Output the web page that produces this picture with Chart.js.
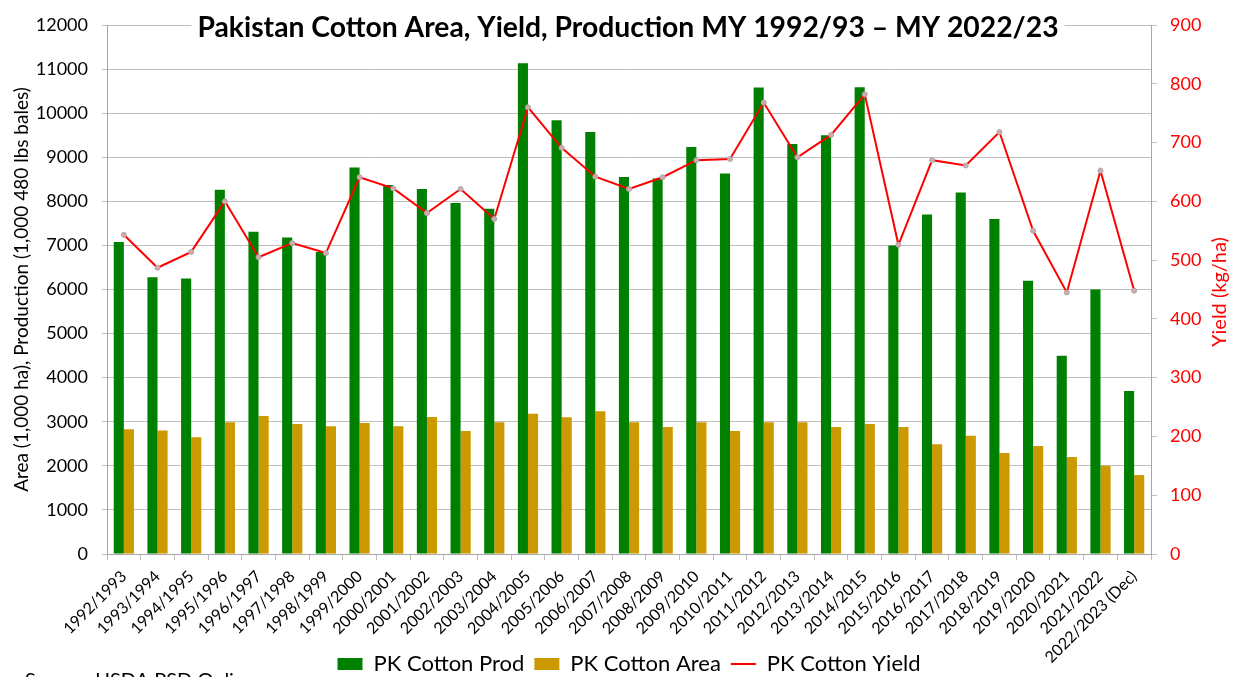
<!DOCTYPE html>
<html>
<head>
<meta charset="utf-8">
<title>Pakistan Cotton Area, Yield, Production</title>
<script src="https://cdn.jsdelivr.net/npm/chart.js@4.4.1/dist/chart.umd.min.js"></script>
<style>
  html, body { margin: 0; padding: 0; background: #fff; }
  #wrap { width: 1233px; height: 677px; }
</style>
</head>
<body>
<div id="wrap"><canvas id="cottonChart" width="1233" height="677"></canvas></div>
<script>
// --- Data ---
const years = [
  '1992/1993', '1993/1994', '1994/1995', '1995/1996', '1996/1997', '1997/1998',
  '1998/1999', '1999/2000', '2000/2001', '2001/2002', '2002/2003', '2003/2004',
  '2004/2005', '2005/2006', '2006/2007', '2007/2008', '2008/2009', '2009/2010',
  '2010/2011', '2011/2012', '2012/2013', '2013/2014', '2014/2015', '2015/2016',
  '2016/2017', '2017/2018', '2018/2019', '2019/2020', '2020/2021', '2021/2022',
  '2022/2023 (Dec)'
];
// production, 1,000 480 lb bales
const prod = [
  7075, 6280, 6250, 8260, 7310, 7180, 6850, 8770, 8370, 8280, 7960, 7830,
  11130, 9840, 9570, 8550, 8520, 9230, 8630, 10580, 9300, 9500, 10590, 7000,
  7700, 8200, 7600, 6200, 4500, 6000, 3700
];
// area, 1,000 ha
const area = [
  2830, 2800, 2650, 2990, 3130, 2950, 2900, 2970, 2900, 3110, 2790, 2990,
  3180, 3100, 3240, 2990, 2880, 2990, 2790, 2990, 2990, 2880, 2950, 2880,
  2490, 2680, 2290, 2450, 2200, 2000, 1790
];
// yield, kg/ha
const yieldKgHa = [
  543, 487, 514, 600, 505, 529, 512, 641, 622, 580, 621, 570,
  760, 691, 642, 621, 641, 670, 672, 768, 675, 713, 782, 526,
  670, 661, 718, 550, 445, 652, 448
];
const leftTicks = { min: 0, max: 12000, step: 1000 };
const rightTicks = { min: 0, max: 900, step: 100 };

const titleText = 'Pakistan Cotton Area, Yield, Production MY 1992/93 \u2013 MY 2022/23';
const rightTitle = 'Yield (kg/ha)';
const sourceText = 'Source: USDA PSD Online';

Chart.defaults.font.family = 'Lato, "Open Sans", sans-serif';
Chart.defaults.color = '#000';

// title sits over the top gridline, right axis title reads bottom-to-top
const overlayText = {
  id: 'overlayText',
  afterLayout(chart) {
    // legend overlaps the tall x-axis box, like Excel does
    const lg = chart.legend;
    if (lg) { lg.top -= 27; lg.bottom -= 27; }
  },
  beforeDatasetsDraw(chart) {
    const ctx = chart.ctx;
    ctx.save();
    // fit the title to the width it has in the reference (about 860px)
    ctx.font = 'bold 25px Lato';
    const size = 25 * 860 / ctx.measureText(titleText).width;
    ctx.font = 'bold ' + size.toFixed(1) + 'px Lato';
    const w = ctx.measureText(titleText).width;
    const cx = 628;
    ctx.fillStyle = '#fff';
    ctx.fillRect(cx - w / 2 - 6, 12, w + 12, 30);
    ctx.fillStyle = '#000';
    ctx.textAlign = 'center';
    ctx.textBaseline = 'alphabetic';
    ctx.fillText(titleText, cx, 37);
    ctx.restore();
  },
  afterDraw(chart) {
    const ctx = chart.ctx;
    ctx.save();
    ctx.translate(1220, 292);
    ctx.rotate(-Math.PI / 2);
    ctx.font = '20px Lato';
    ctx.fillStyle = '#FF0000';
    ctx.textAlign = 'center';
    ctx.textBaseline = 'middle';
    ctx.fillText(rightTitle, 0, 0);
    ctx.restore();

    ctx.save();
    ctx.font = '20px Lato';
    ctx.fillStyle = '#000';
    ctx.textBaseline = 'top';
    ctx.fillText(sourceText, 25, 671);
    ctx.restore();
  }
};

const legendOrder = { 'PK Cotton Prod': 0, 'PK Cotton Area': 1, 'PK Cotton Yield': 2 };

const ctx = document.getElementById('cottonChart');
new Chart(ctx, {
  type: 'bar',
  data: {
    labels: years,
    datasets: [
      {
        type: 'line',
        label: 'PK Cotton Yield',
        data: yieldKgHa,
        yAxisID: 'y1',
        borderColor: '#FF0000',
        backgroundColor: '#FF0000',
        borderWidth: 2,
        pointRadius: 2.5,
        pointStyle: 'circle',
        pointBackgroundColor: '#D8A8A8',
        pointBorderColor: '#A8A8A8',
        pointBorderWidth: 1,
        tension: 0,
        order: 0
      },
      {
        label: 'PK Cotton Prod',
        data: prod,
        yAxisID: 'y',
        backgroundColor: '#008000',
        categoryPercentage: 0.6,
        barPercentage: 1.0,
        order: 1
      },
      {
        label: 'PK Cotton Area',
        data: area,
        yAxisID: 'y',
        backgroundColor: '#CC9900',
        categoryPercentage: 0.6,
        barPercentage: 1.0,
        order: 1
      }
    ]
  },
  options: {
    responsive: false,
    animation: false,
    devicePixelRatio: 1,
    layout: { padding: { top: 25, left: 0, right: 0, bottom: -35 } },
    plugins: {
      title: { display: false },
      tooltip: { enabled: false },
      legend: {
        position: 'bottom',
        fullSize: false,
        labels: {
          usePointStyle: true,
          pointStyleWidth: 25,
          boxHeight: 12,
          padding: 10,
          font: { size: 22 },
          color: '#000',
          generateLabels: (chart) => {
            const items = Chart.defaults.plugins.legend.labels.generateLabels(chart);
            items.forEach(it => {
              if (it.text === 'PK Cotton Yield') {
                it.pointStyle = 'line';
                it.strokeStyle = '#FF0000';
                it.lineWidth = 2;
              } else {
                it.pointStyle = 'rect';
                it.lineWidth = 0;
              }
            });
            return items.sort((a, b) => legendOrder[a.text] - legendOrder[b.text]);
          }
        }
      }
    },
    scales: {
      x: {
        grid: {
          display: true,
          drawOnChartArea: false,
          offset: true,
          tickLength: 6,
          color: '#BFBFBF'
        },
        border: { color: '#A6A6A6' },
        ticks: {
          minRotation: 45,
          maxRotation: 45,
          autoSkip: false,
          padding: 7,
          font: { size: 16 },
          color: '#000'
        },
        afterFit: (s) => { s.height = 116; }
      },
      y: {
        position: 'left',
        min: leftTicks.min,
        max: leftTicks.max,
        ticks: {
          stepSize: leftTicks.step,
          padding: 14,
          font: { size: 18 },
          color: '#000',
          callback: (v) => String(v)
        },
        grid: { color: '#BFBFBF', tickLength: 5 },
        border: { color: '#A6A6A6' },
        title: {
          display: true,
          text: 'Area (1,000 ha), Production (1,000 480 lbs bales)',
          font: { size: 19 },
          color: '#000',
          padding: { top: 10, bottom: 0 }
        },
        afterFit: (s) => { s.width = 107; }
      },
      y1: {
        position: 'right',
        min: rightTicks.min,
        max: rightTicks.max,
        ticks: {
          stepSize: rightTicks.step,
          padding: 13,
          font: { size: 18 },
          color: '#FF0000',
          callback: (v) => String(v)
        },
        grid: { drawOnChartArea: false, color: '#BFBFBF', tickLength: 6 },
        border: { color: '#A6A6A6' },
        afterFit: (s) => { s.width = 82; }
      }
    }
  },
  plugins: [overlayText]
});
</script>
</body>
</html>
